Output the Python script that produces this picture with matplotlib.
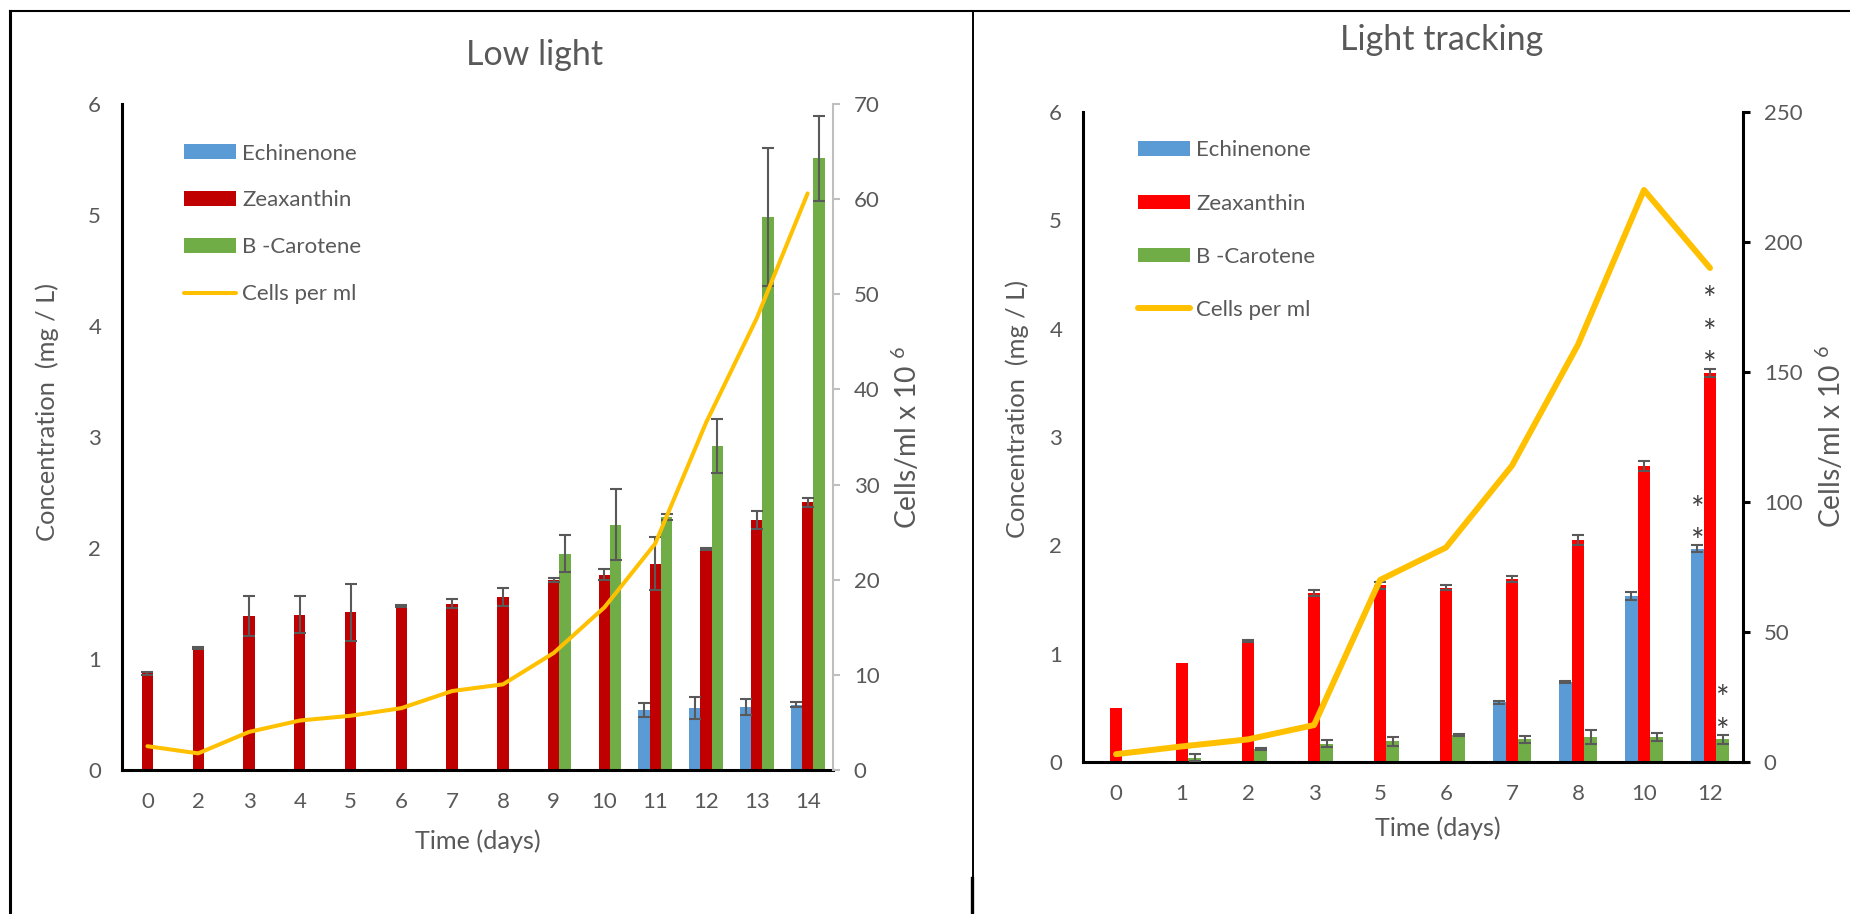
import numpy as np
import matplotlib
matplotlib.use("Agg")
import matplotlib.pyplot as plt
from matplotlib.lines import Line2D
from matplotlib.patches import Patch

plt.rcParams['font.family'] = ['Lato', 'DejaVu Sans']
plt.rcParams['mathtext.default'] = 'regular'

nan = np.nan

# ---------------- Low light ----------------
low_days = ['0', '2', '3', '4', '5', '6', '7', '8', '9', '10', '11', '12', '13', '14']
low_echinenone = [0, 0, 0, 0, 0, 0, 0, 0, 0, 0, 0.54, 0.56, 0.57, 0.59]
low_echinenone_err = [nan] * 10 + [0.06, 0.10, 0.07, 0.02]
low_zeaxanthin = [0.87, 1.10, 1.39, 1.40, 1.42, 1.48, 1.50, 1.56, 1.71, 1.76, 1.86, 1.99, 2.25, 2.41]
low_zeaxanthin_err = [0.01, 0.01, 0.18, 0.17, 0.26, 0.01, 0.04, 0.08, 0.02, 0.05, 0.24, 0.01, 0.08, 0.04]
low_carotene = [0, 0, 0, 0, 0, 0, 0, 0, 1.95, 2.21, 2.28, 2.92, 4.98, 5.51]
low_carotene_err = [nan] * 8 + [0.165, 0.32, 0.03, 0.24, 0.62, 0.38]
low_cells = [2.5, 1.75, 4.0, 5.2, 5.7, 6.5, 8.3, 9.0, 12.3, 17.1, 23.8, 36.5, 47.5, 60.6]

# ---------------- Light tracking ----------------
lt_days = ['0', '1', '2', '3', '5', '6', '7', '8', '10', '12']
lt_echinenone = [0, 0, 0, 0, 0, 0, 0.55, 0.74, 1.53, 1.97]
lt_echinenone_err = [nan] * 6 + [0.01, 0.01, 0.035, 0.03]
lt_zeaxanthin = [0.50, 0.91, 1.12, 1.56, 1.63, 1.61, 1.69, 2.05, 2.73, 3.59]
lt_zeaxanthin_err = [nan, nan, 0.01, 0.03, 0.03, 0.02, 0.03, 0.05, 0.045, 0.04]
lt_carotene = [0, 0.04, 0.12, 0.17, 0.19, 0.25, 0.21, 0.23, 0.23, 0.21]
lt_carotene_err = [nan, 0.03, 0.01, 0.03, 0.04, 0.01, 0.03, 0.065, 0.04, 0.04]
lt_cells = [3, 6, 8.7, 14.2, 70, 82.5, 114, 160.5, 220, 190]
# significance stars on the last day (Echinenone, Zeaxanthin, B-Carotene)
lt_sig_day = '12'
lt_sig_stars = [2, 3, 2]

series_names = ['Echinenone', 'Zeaxanthin', 'B -Carotene']
line_name = 'Cells per ml'

BLUE = '#5B9BD5'
GREEN = '#70AD47'
GOLD = '#FFC000'
TEXT = '#595959'
ERR = '#595959'

W, H, DPI = 1850, 914, 100
fig = plt.figure(figsize=(W / DPI, H / DPI), dpi=DPI)
fig.patch.set_facecolor('white')


def fx(px):
    return px / W


def fy(py):
    return 1 - py / H


def panel(box, days, values, errors, colors, cells, cell_max, cell_step,
          bar_w, line_w, right_color, right_lw, leg_anchor, leg_spacing):
    x0, y0, x1, y1 = box
    ax = fig.add_axes([fx(x0), fy(y1), fx(x1) - fx(x0), fy(y0) - fy(y1)])
    x = np.arange(len(days))
    offsets = [-bar_w, 0, bar_w]
    for vals, err, col, off in zip(values, errors, colors, offsets):
        ax.bar(x + off, vals, width=bar_w, color=col, zorder=2,
               yerr=err, error_kw=dict(ecolor=ERR, elinewidth=1.5,
                                       capsize=4.3, capthick=1.5, zorder=3))
    ax.set_xlim(-0.5, len(days) - 0.5)
    ax.set_ylim(0, 6)
    ax.set_yticks(range(7))
    ax.set_xticks(x)
    ax.set_xticklabels(days)
    ax.tick_params(axis='x', length=0, pad=16, labelsize=16, labelcolor=TEXT)
    ax.tick_params(axis='y', length=0, pad=15, labelsize=16, labelcolor=TEXT)
    for s in ['top', 'right']:
        ax.spines[s].set_visible(False)
    for s in ['left', 'bottom']:
        ax.spines[s].set_linewidth(2.2)
        ax.spines[s].set_color('black')

    ax2 = ax.twinx()
    ax2.plot(x, cells, color=GOLD, lw=line_w, solid_capstyle='round',
             solid_joinstyle='round', zorder=4)
    ax2.set_ylim(0, cell_max)
    ax2.set_yticks(np.arange(0, cell_max + 1, cell_step))
    for s in ['top', 'left', 'bottom']:
        ax2.spines[s].set_visible(False)
    ax2.spines['right'].set_color(right_color)
    ax2.spines['right'].set_linewidth(right_lw)
    ax2.tick_params(axis='y', direction='out', length=5, width=right_lw,
                    color=right_color, pad=10, labelsize=16, labelcolor=TEXT)

    handles = [Patch(facecolor=c, edgecolor='none') for c in colors]
    handles.append(Line2D([], [], color=GOLD, lw=line_w, solid_capstyle='round'))
    ax2.legend(handles, series_names + [line_name], loc='upper left',
               bbox_to_anchor=(fx(leg_anchor[0]), fy(leg_anchor[1])),
               bbox_transform=fig.transFigure, frameon=False, fontsize=16,
               handlelength=2.34, handleheight=0.63, handletextpad=0.27,
               labelspacing=leg_spacing, borderpad=0, borderaxespad=0,
               labelcolor=TEXT)
    return ax, ax2


# Left chart
panel((122, 104, 833, 770), low_days,
      [low_echinenone, low_zeaxanthin, low_carotene],
      [low_echinenone_err, low_zeaxanthin_err, low_carotene_err],
      [BLUE, '#C00000', GREEN], low_cells, 70, 10,
      0.222, 2.9, '#BFBFBF', 1.5, (184, 143.5), 1.21)
fig.text(fx(535), fy(55), 'Low light', ha='center', va='center', fontsize=24.5, color=TEXT)
fig.text(fx(47), fy(412), 'Concentration  (mg / L)', rotation=90, ha='center', va='center',
         fontsize=18.3, color=TEXT)
fig.text(fx(906), fy(437), 'Cells/ml x 10 $^{6}$', rotation=90, ha='center', va='center',
         fontsize=20.3, color=TEXT)
fig.text(fx(478), fy(841), 'Time (days)', ha='center', va='center', fontsize=18.2, color=TEXT)

# Right chart
ax_r, ax_r2 = panel((1083, 112, 1743, 762), lt_days,
                    [lt_echinenone, lt_zeaxanthin, lt_carotene],
                    [lt_echinenone_err, lt_zeaxanthin_err, lt_carotene_err],
                    [BLUE, '#FF0000', GREEN], lt_cells, 250, 50,
                    0.192, 4.3, 'black', 2.2, (1138, 140.5), 1.49)
fig.text(fx(1442), fy(40), 'Light tracking', ha='center', va='center', fontsize=24.5, color=TEXT)
fig.text(fx(1017), fy(409), 'Concentration  (mg / L)', rotation=90, ha='center', va='center',
         fontsize=18.3, color=TEXT)
fig.text(fx(1830), fy(436), 'Cells/ml x 10 $^{6}$', rotation=90, ha='center', va='center',
         fontsize=20.3, color=TEXT)
fig.text(fx(1438), fy(828), 'Time (days)', ha='center', va='center', fontsize=18.2, color=TEXT)

# significance stars above the last-day bars
i_sig = lt_days.index(lt_sig_day)
for k, (vals, errs, n) in enumerate(zip([lt_echinenone, lt_zeaxanthin, lt_carotene],
                                       [lt_echinenone_err, lt_zeaxanthin_err, lt_carotene_err],
                                       lt_sig_stars)):
    xpos = i_sig + (k - 1) * 0.192
    top = vals[i_sig] + (0 if np.isnan(errs[i_sig]) else errs[i_sig])
    for j in range(n):
        ax_r.annotate('*', xy=(xpos, top), xytext=(0, -4.8 + j * 23.4), textcoords='offset points',
                      ha='center', va='baseline', fontsize=23, color='#404040', zorder=6)

# page frame lines
fig.add_artist(Line2D([fx(10), fx(1850)], [fy(11), fy(11)], color='black', lw=1.5))
fig.add_artist(Line2D([fx(10), fx(10)], [fy(11), fy(914)], color='black', lw=2.2))
fig.add_artist(Line2D([fx(973), fx(973)], [fy(11), fy(878)], color='black', lw=1.4))
fig.add_artist(Line2D([fx(972), fx(972)], [fy(878), fy(914)], color='black', lw=2.4))

fig.savefig('out.png', dpi=DPI, facecolor='white')
